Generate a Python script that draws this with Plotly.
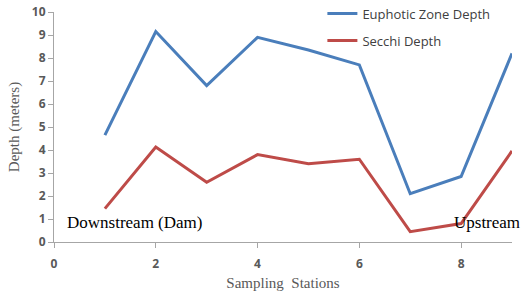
import plotly.graph_objects as go

stations = [1, 2, 3, 4, 5, 6, 7, 8, 9]
euphotic = [4.65, 9.15, 6.8, 8.9, 8.35, 7.7, 2.1, 2.85, 8.2]
secchi = [1.45, 4.13, 2.6, 3.8, 3.4, 3.6, 0.45, 0.8, 3.96]
x_ticks = [0, 2, 4, 6, 8]
y_ticks = list(range(0, 11))

fig = go.Figure()
fig.add_trace(go.Scatter(x=stations, y=euphotic, mode="lines", name="Euphotic Zone Depth",
                         line=dict(color="#4A7EBB", width=3), legendgroup="a"))
fig.add_trace(go.Scatter(x=stations, y=secchi, mode="lines", name="Secchi Depth",
                         line=dict(color="#BE4B48", width=3), legendgroup="b"))

axis_common = dict(showgrid=False, zeroline=False, showline=True, linecolor="#A6A6A6", linewidth=1,
                   ticks="outside", tickcolor="#A6A6A6", ticklen=5, automargin=False,
                   tickfont=dict(family="Open Sans", size=12, color="#595959", weight="bold"))
fig.update_xaxes(range=[0, 9], tickvals=x_ticks, **axis_common, ticklabelstandoff=6,
                 title=dict(text="Sampling  Stations", font=dict(family="Liberation Serif", size=15, color="#595959"), standoff=6))
fig.update_yaxes(range=[0, 10], tickvals=y_ticks, **axis_common,
                 title=dict(text="Depth (meters)", font=dict(family="Liberation Serif", size=15, color="#595959"), standoff=8))

fig.add_annotation(x=1.59, y=0.85, xref="x", yref="y", xanchor="center", yanchor="middle",
                   text="Downstream (Dam)", showarrow=False,
                   font=dict(family="Liberation Serif", size=17, color="black"))
fig.add_annotation(x=8.51, y=0.85, xref="x", yref="y", xanchor="center", yanchor="middle",
                   text="Upstream", showarrow=False,
                   font=dict(family="Liberation Serif", size=17, color="black"))

fig.update_layout(
    width=532, height=294,
    margin=dict(l=54, r=20, t=12, b=52, autoexpand=False),
    plot_bgcolor="white", paper_bgcolor="white",
    legend=dict(x=0.586, y=1.058, xanchor="left", yanchor="top",
                traceorder="grouped", tracegroupgap=7,
                font=dict(family="Open Sans", size=13, color="#404040"), bgcolor="rgba(0,0,0,0)"),
)
fig.write_html("out.html", config={"displayModeBar": False},
               post_script="document.body.style.margin='0';")
